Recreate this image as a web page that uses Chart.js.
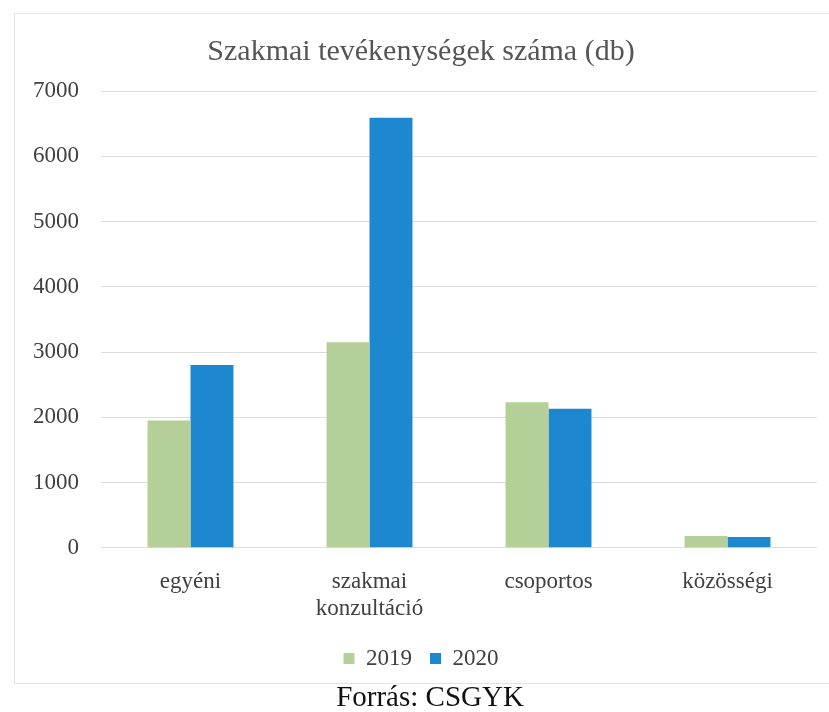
<!DOCTYPE html>
<html>
<head>
<meta charset="utf-8">
<script src="https://cdn.jsdelivr.net/npm/chart.js@4"></script>
<style>
  body { margin: 0; background: #fff; width: 829px; height: 712px; overflow: hidden; position: relative; }
  #box { position: absolute; left: 14px; top: 13px; width: 830px; height: 669px; border: 1px solid #e3e3e3; }
  #wrap { position: absolute; left: 0; top: 0; width: 815px; height: 669px; }
  #source { position: absolute; left: 0; width: 860px; top: 680px; text-align: center; font-family: 'Liberation Serif', serif; font-size: 29px; color: #111; }
</style>
</head>
<body>
<div id="box">
  <div id="wrap"><canvas id="chart"></canvas></div>
</div>
<div id="source">Forrás: CSGYK</div>
<script>
const categories = ['egyéni', ['szakmai', 'konzultáció'], 'csoportos', 'közösségi'];
const values2019 = [1950, 3150, 2230, 180];
const values2020 = [2800, 6590, 2130, 165];
const seriesNames = ['2019', '2020'];
const yTicks = [0, 1000, 2000, 3000, 4000, 5000, 6000, 7000];

const serif = 'Liberation Serif';

const ctx = document.getElementById('chart').getContext('2d');
new Chart(ctx, {
    type: 'bar',
    data: {
        labels: categories,
        datasets: [{
            label: seriesNames[0],
            data: values2019,
            backgroundColor: '#b4cf97'
        }, {
            label: seriesNames[1],
            data: values2020,
            backgroundColor: '#1d88cf'
        }]
    },
    options: {
        responsive: true,
        maintainAspectRatio: false,
        animation: false,
        categoryPercentage: 0.48,
        barPercentage: 1,
        layout: { padding: { left: 10, right: 13, top: 12, bottom: 3 } },
        plugins: {
            title: {
                display: true,
                text: 'Szakmai tevékenységek száma (db)',
                color: '#555',
                font: { family: serif, size: 30, weight: 'normal' },
                padding: { top: 8, bottom: 21 }
            },
            legend: {
                position: 'bottom',
                labels: {
                    color: '#404040',
                    font: { family: serif, size: 23 },
                    boxWidth: 11,
                    boxHeight: 11,
                    padding: 18
                }
            },
            tooltip: { enabled: false }
        },
        scales: {
            x: {
                grid: { display: false },
                border: { display: false },
                afterFit: axis => { axis.height -= 6; },
                ticks: {
                    color: '#404040',
                    font: { family: serif, size: 23 },
                    maxRotation: 0,
                    padding: 12
                }
            },
            y: {
                min: 0,
                max: yTicks[yTicks.length - 1],
                afterBuildTicks: axis => { axis.ticks = yTicks.map(v => ({ value: v })); },
                afterFit: axis => { axis.width = 76; },
                grid: { color: '#dcdcdc', drawTicks: false },
                border: { display: false },
                ticks: {
                    color: '#404040',
                    font: { family: serif, size: 23 },
                    padding: 22,
                    callback: v => String(v)
                }
            }
        }
    }
});
</script>
</body>
</html>
